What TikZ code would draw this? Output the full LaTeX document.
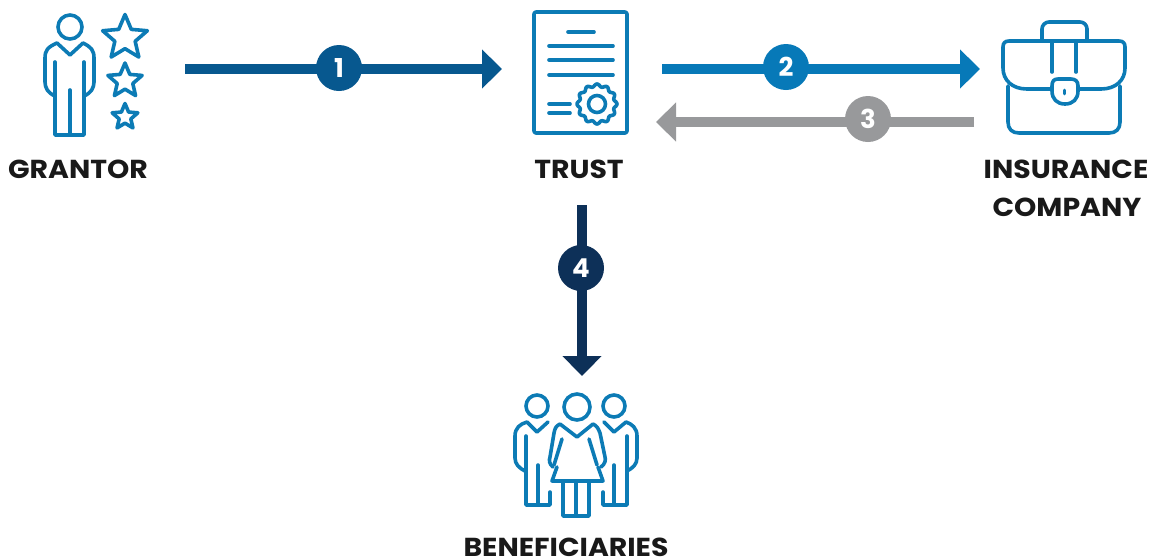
\documentclass[tikz,border=0pt]{standalone}
\usepackage{fontspec}
\setmainfont{Poppins}
\newfontfamily\labfont[FakeStretch=1.09]{Poppins}
\usetikzlibrary{arrows.meta,shapes.geometric}
\definecolor{icon}{HTML}{0C7BB5}
\definecolor{cone}{HTML}{07588F}
\definecolor{ctwo}{HTML}{0779B8}
\definecolor{cthree}{HTML}{98999B}
\definecolor{cfour}{HTML}{0D3058}
\tikzset{
  ico/.style={draw=icon,line width=3.6pt,line join=round,line cap=round,fill=none},
  starico/.style={star,star points=5,star point ratio=2.2,draw=icon,line width=3.6pt,line join=round,inner sep=0pt},
  flow/.style={line width=10pt,-{Triangle[length=20pt,width=38pt]}},
  badge/.style={circle,minimum size=46pt,inner sep=0pt,text=white,font=\fontsize{26}{26}\selectfont\bfseries},
  lab/.style={text=black!90,font=\labfont\fontsize{26}{38}\selectfont\bfseries,align=center,inner sep=0pt,anchor=base}
}
\begin{document}
\begin{tikzpicture}[x=1pt,y=-1pt]
\useasboundingbox (0,0) rectangle (1150,558);
% grantor
\node[ico,circle,minimum size=24pt,inner sep=0pt] (ghead) at (70,27) {};
\draw[ico] (55,62) -- (55,135) -- (84,135) -- (84,62);
\draw[ico] (70,90) -- (70,135);
\draw[ico] (55,96) .. controls (48,93) and (45,88) .. (45,82) -- (45,58)
  .. controls (45,50) and (48,47) .. (57,43) -- (70,55) -- (83,43)
  .. controls (91,47) and (94,50) .. (94,58) -- (94,82) .. controls (94,88) and (91,93) .. (84,96);
\node[starico,minimum size=47pt] (s1) at (125,38) {};
\node[starico,minimum size=36pt] (s2) at (125,81) {};
\node[starico,minimum size=27pt] (s3) at (125,117) {};
% trust
\draw[ico,rounded corners=2pt] (534,12) rectangle (627,133);
\draw[ico] (568,32) -- (594,32) (549,46) -- (613,46) (549,60) -- (613,60) (549,75) -- (613,75)
  (549,104) -- (570,104) (549,113) -- (570,113);
\draw[ico] plot[domain=0:360,samples=145,smooth] ({597+(18.7+1.3*cos(12*\x))*cos(\x)},{104+(18.7+1.3*cos(12*\x))*sin(\x)}) -- cycle;
\node[ico,circle,minimum size=17pt,inner sep=0pt] (seal) at (597,104) {};
% briefcase
\draw[ico,rounded corners=7pt] (1042,41) -- (1042,22) -- (1087,22) -- (1087,41);
\draw[ico] (1051,89) -- (1027,89) .. controls (1012,89) and (1003,80) .. (1003,68) -- (1003,47)
  .. controls (1003,43) and (1005,41) .. (1009,41) -- (1119,41)
  .. controls (1123,41) and (1125,43) .. (1125,47) -- (1125,68)
  .. controls (1125,80) and (1116,89) .. (1101,89) -- (1079,89);
\draw[ico] (1052,41) -- (1052,72) (1076,41) -- (1076,72);
\draw[ico] (1008,86) -- (1008,122) .. controls (1008,129) and (1012,133) .. (1019,133) -- (1109,133)
  .. controls (1116,133) and (1120,129) .. (1120,122) -- (1120,86);
\draw[ico,fill=white] (1052,86) .. controls (1052,81) and (1054,79) .. (1058,79) -- (1071,79)
  .. controls (1075,79) and (1078,81) .. (1078,86) -- (1078,91)
  .. controls (1078,99) and (1073,104) .. (1065,104) .. controls (1057,104) and (1052,99) .. (1052,91) -- cycle;
\draw[ico,line width=2.8pt] (1064.5,90) -- (1064.5,94);
% beneficiaries
\node[ico,circle,minimum size=22pt,inner sep=0pt] (bh1) at (537,406) {};
\node[ico,circle,minimum size=26pt,inner sep=0pt] (bh2) at (577,407) {};
\node[ico,circle,minimum size=22pt,inner sep=0pt] (bh3) at (614,406) {};
\draw[ico] (525,471) .. controls (519,468) and (515,464) .. (515,458) -- (515,436)
  .. controls (515,428) and (520,424) .. (527,422) -- (537,432) -- (548,422);
\draw[ico] (526,436) -- (526,505) -- (550,505) -- (550,492);
\draw[ico] (538,465) -- (538,505);
\draw[ico] (627,471) .. controls (633,468) and (637,464) .. (637,458) -- (637,436)
  .. controls (637,428) and (632,424) .. (626,422) -- (614,432) -- (604,422);
\draw[ico] (627,436) -- (627,505) -- (603,505) -- (603,492);
\draw[ico] (614,465) -- (614,505);
\draw[ico] (553,467) .. controls (549,464) and (549,460) .. (550,457) -- (554,433)
  .. controls (555,428) and (556,426) .. (560,424) -- (577,437) -- (593,424)
  .. controls (597,426) and (598,428) .. (600,433) -- (605,457) .. controls (606,460) and (605,464) .. (601,467);
\draw[ico] (562,439) -- (554,465) (589,439) -- (597,465);
\draw[ico] (557,467) -- (552,481) -- (603,481) -- (598,467);
\draw[ico] (563,481) -- (563,516) -- (589,516) -- (589,481);
\draw[ico] (576,481) -- (576,516);
% connectors
\coordinate (a1) at (185,69); \coordinate (b1) at (502,69);
\coordinate (a2) at (662,69); \coordinate (b2) at (980,69);
\coordinate (a3) at (974,122); \coordinate (b3) at (656,122);
\coordinate (a4) at (582,205); \coordinate (b4) at (582,376);
\draw[flow,draw=cone,fill=cone] (a1) -- (b1);
\draw[flow,draw=ctwo,fill=ctwo] (a2) -- (b2);
\draw[flow,draw=cthree,fill=cthree] (a3) -- (b3);
\draw[flow,draw=cfour,fill=cfour] (a4) -- (b4);
\node[badge,fill=cone] (n1) at (339,68) {1};
\node[badge,fill=ctwo] (n2) at (786,67) {2};
\node[badge,fill=cthree] (n3) at (868,119) {3};
\node[badge,fill=cfour] (n4) at (581,268) {4};
% labels
\node[lab] (grantor) at (78,178) {GRANTOR};
\node[lab] (trust) at (579,178) {TRUST};
\node[lab] (ins) at (1066,178) {INSURANCE};
\node[lab] (comp) at (1067,216) {COMPANY};
\node[lab] (ben) at (566,556) {BENEFICIARIES};
\end{tikzpicture}
\end{document}
